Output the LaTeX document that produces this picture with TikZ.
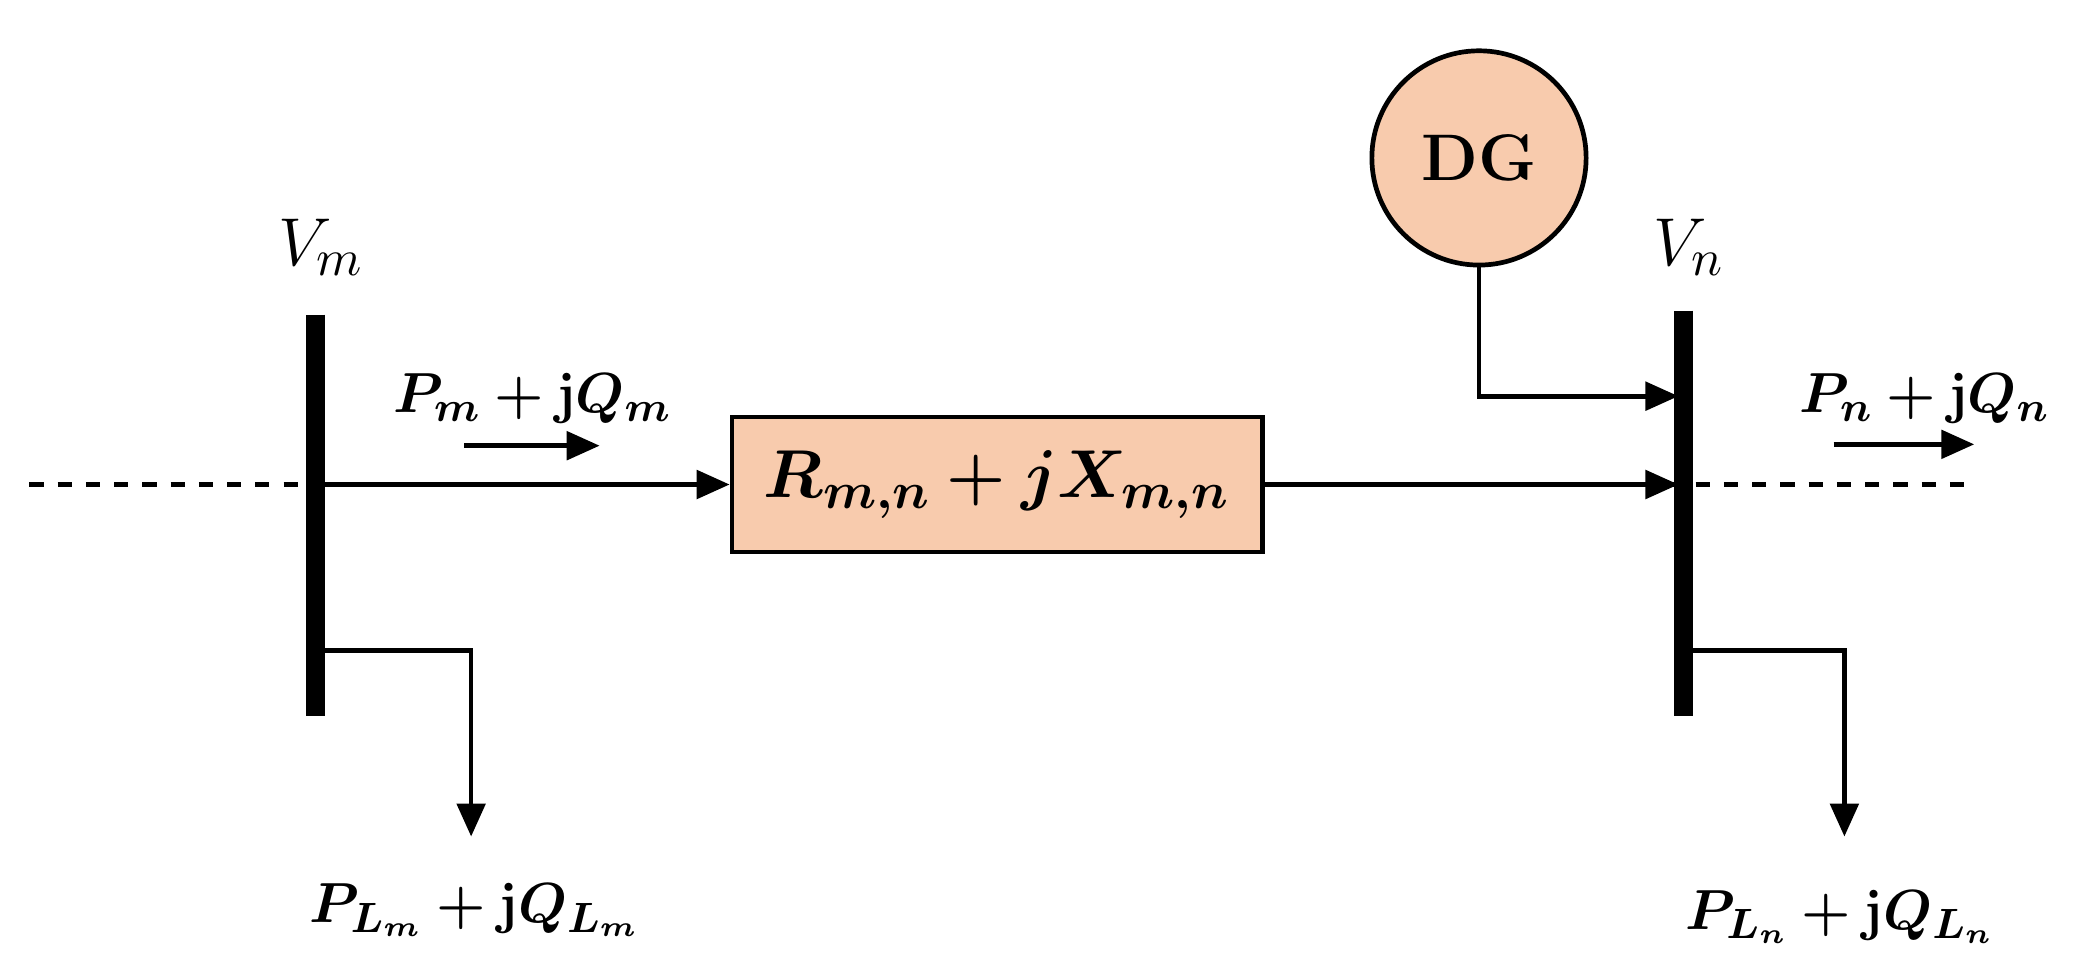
\documentclass[tikz,border=0pt]{standalone}
\usepackage{amsmath,bm}
\usetikzlibrary{arrows.meta}
\definecolor{peach}{HTML}{F8CBAD}
\begin{document}
\begin{tikzpicture}[x=0.01cm,y=-0.01cm,>={Triangle[length=7pt,width=6pt]}]
	\tikzstyle{bus}=[line width=4pt]
	\tikzstyle{every path}=[line width=1pt]
	\tikzstyle{lbl}=[font=\fontsize{13}{16}\selectfont]
	\useasboundingbox (0,0) rectangle (1560,722);

	% buses and line
	\coordinate (w) at (22,362);
	\coordinate (e) at (1470,362);
	\draw [dashed] (w) -- (e);
	\coordinate (bm1) at (236,235);
	\coordinate (bm2) at (236,535);
	\coordinate (bn1) at (1258,232);
	\coordinate (bn2) at (1258,535);
	\draw [bus] (bm1) -- (bm2);
	\draw [bus] (bn1) -- (bn2);
	\node [font=\fontsize{15}{18}\selectfont] (vm) at (240,185) {$V_m$};
	\node [font=\fontsize{15}{18}\selectfont] (vn) at (1262,185) {$V_n$};

	\node [draw,fill=peach,minimum width=3.96cm,minimum height=1.01cm,
		font=\fontsize{15}{18}\selectfont] (z) at (745,362) {$\bm{R_{m,n}+jX_{m,n}}$};
	\coordinate (m0) at (240,362);
	\coordinate (n0) at (1254,362);
	\draw [->] (m0) -- (z.west);
	\draw [->] (z.east) -- (n0);

	% flows
	\node [lbl] (pm) at (398,298) {$\bm{P_m+\mathrm{j}Q_m}$};
	\coordinate (pa) at (347,333);
	\coordinate (pb) at (448,333);
	\draw [->] (pa) -- (pb);
	\node [lbl] (pn) at (1438,298) {$\bm{P_n+\mathrm{j}Q_n}$};
	\coordinate (qa) at (1370,332);
	\coordinate (qb) at (1475,332);
	\draw [->] (qa) -- (qb);

	% DG
	\node [draw,circle,fill=peach,minimum size=1.6cm,font=\fontsize{14}{17}\selectfont\bfseries] (dg) at (1105,118) {DG};
	\coordinate (dgin) at (1254,296);
	\draw [->] (dg.south) |- (dgin);

	% loads
	\coordinate (lm0) at (240,486);
	\coordinate (lm1) at (352,625);
	\node [lbl] (lm) at (355,680) {$\bm{P_{L_m}+\mathrm{j}Q_{L_m}}$};
	\draw [->] (lm0) -| (lm1);
	\coordinate (ln0) at (1262,486);
	\coordinate (ln1) at (1378,625);
	\node [lbl] (ln) at (1375,685) {$\bm{P_{L_n}+\mathrm{j}Q_{L_n}}$};
	\draw [->] (ln0) -| (ln1);
\end{tikzpicture}
\end{document}
